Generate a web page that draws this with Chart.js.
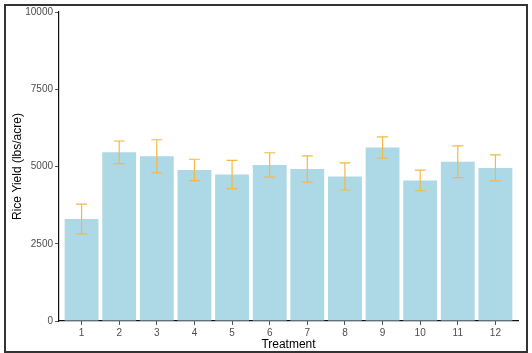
<!DOCTYPE html>
<html>
<head>
  <title>Rice Yield by Treatment</title>
  <style>
    body {
      margin: 0;
      background: #fff;
      font-family: "Liberation Sans", Arial, sans-serif;
    }
    .wrap {
      position: relative;
      width: 532px;
      height: 353px;
    }
    .frame {
      position: absolute;
      left: 4px;
      top: 4px;
      width: 520px;
      height: 345px;
      border: 2px solid #333;
      pointer-events: none;
    }
    canvas {
      position: absolute;
      left: 0;
      top: 0;
    }
  </style>
  <script src="https://cdn.jsdelivr.net/npm/chart.js"></script>
</head>
<body>
  <div class="wrap">
    <canvas id="yieldChart" width="532" height="353"></canvas>
    <div class="frame"></div>
  </div>
  <script>
    // Values
    const treatments = [1, 2, 3, 4, 5, 6, 7, 8, 9, 10, 11, 12];
    const yields = [3300, 5460, 5330, 4890, 4740, 5050, 4920, 4680, 5615, 4550, 5155, 4955];
    const errors = [480, 365, 535, 345, 455, 395, 425, 440, 345, 335, 515, 420];
    const yTicks = [0, 2500, 5000, 7500, 10000];

    const barColor = '#ADD8E6';
    const errColor = '#F3B845';

    // Draws the error bars with caps on top of the bars
    const errorBars = {
      id: 'errorBars',
      afterDatasetsDraw(chart) {
        const ctx = chart.ctx;
        const xs = chart.scales.x;
        const ys = chart.scales.y;
        ctx.save();
        ctx.strokeStyle = errColor;
        ctx.lineWidth = 1.2;
        treatments.forEach((t, i) => {
          const x = xs.getPixelForValue(t);
          const hi = ys.getPixelForValue(yields[i] + errors[i]);
          const lo = ys.getPixelForValue(yields[i] - errors[i]);
          const cap = 5.5;
          ctx.beginPath();
          ctx.moveTo(x, hi);
          ctx.lineTo(x, lo);
          ctx.moveTo(x - cap, hi);
          ctx.lineTo(x + cap, hi);
          ctx.moveTo(x - cap, lo);
          ctx.lineTo(x + cap, lo);
          ctx.stroke();
        });
        ctx.restore();
      }
    };

    new Chart(document.getElementById('yieldChart'), {
      type: 'bar',
      data: {
        datasets: [{
          data: treatments.map((t, i) => ({ x: t, y: yields[i] })),
          backgroundColor: barColor,
          barPercentage: 0.9,
          categoryPercentage: 1
        }]
      },
      options: {
        responsive: false,
        animation: false,
        layout: { padding: { top: 12, right: 14, bottom: 0, left: 0 } },
        plugins: {
          legend: { display: false },
          tooltip: { enabled: false }
        },
        scales: {
          x: {
            type: 'linear',
            min: 0.4,
            max: 12.6,
            offset: false,
            afterBuildTicks: (axis) => { axis.ticks = treatments.map(v => ({ value: v })); },
            afterFit: (axis) => { axis.height = 32; },
            grid: { display: true, offset: false, drawOnChartArea: false, drawTicks: true, tickLength: 4, color: '#555' },
            border: { display: true, color: '#111', width: 1.2 },
            ticks: {
              padding: 2,
              color: '#4D4D4D',
              font: { family: 'Liberation Sans', size: 10 },
              maxRotation: 0,
              autoSkip: false,
              callback: (v) => String(v)
            },
            title: {
              display: true,
              text: 'Treatment',
              color: '#000',
              font: { family: 'Liberation Sans', size: 12 },
              padding: { top: 0, bottom: 1 }
            }
          },
          y: {
            min: 0,
            max: 10000,
            afterBuildTicks: (axis) => { axis.ticks = yTicks.map(v => ({ value: v })); },
            afterFit: (axis) => { axis.width = 59; },
            grid: { display: true, drawOnChartArea: false, drawTicks: true, tickLength: 4, color: '#555' },
            border: { display: true, color: '#111', width: 1.2 },
            ticks: {
              padding: 2,
              color: '#4D4D4D',
              font: { family: 'Liberation Sans', size: 10 },
              callback: (v) => String(v)
            },
            title: {
              display: true,
              text: 'Rice Yield (lbs/acre)',
              color: '#000',
              font: { family: 'Liberation Sans', size: 12 },
              padding: { top: 10, bottom: 0 }
            }
          }
        }
      },
      plugins: [errorBars]
    });
  </script>
</body>
</html>
